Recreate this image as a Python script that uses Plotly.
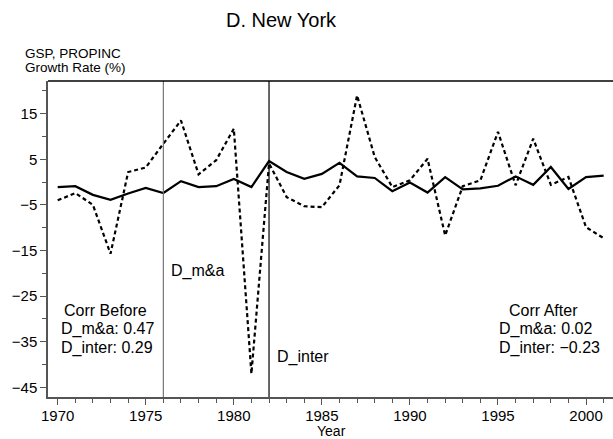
import plotly.graph_objects as go

years = list(range(1970, 2002))
gsp = [-1.1, -0.9, -2.8, -3.9, -2.5, -1.3, -2.4, 0.2, -1.1, -0.9, 0.7, -1.1,
       4.6, 2.2, 0.7, 1.8, 4.2, 1.25, 0.9, -2.0, -0.1, -2.3, 1.1, -1.6,
       -1.4, -0.8, 1.25, -0.6, 3.3, -1.5, 1.1, 1.4]
propinc = [-4.0, -2.4, -5.0, -15.7, 2.2, 3.2, 8.4, 13.5, 1.7, 4.8, 11.7, -42.0,
           4.1, -3.3, -5.3, -5.5, -0.7, 19.0, 5.5, -1.1, 0.4, 5.1, -11.7, -0.9,
           0.4, 11.0, -0.7, 9.5, -0.6, 1.1, -9.9, -12.3]
events = [1976, 1982]
event_labels = ["D_m&a", "D_inter"]
corr_before = ["Corr Before", "D_m&a: 0.47", "D_inter: 0.29"]
corr_after = ["Corr After", "D_m&a: 0.02", "D_inter: \u22120.23"]

W, H = 613, 439
L, R, T, B = 48, 0, 81, 42
PW, PH = W - L - R, H - T - B


def px(x):
    return (x - L) / PW


def py(y):
    return (H - B - y) / PH


FONT = "Liberation Sans, Arial, Helvetica, sans-serif"

fig = go.Figure()
fig.add_trace(go.Scatter(x=years, y=gsp, mode="lines",
                         line=dict(color="black", width=2.2), showlegend=False))
fig.add_trace(go.Scatter(x=years, y=propinc, mode="lines",
                         line=dict(color="black", width=2.2, dash="4px,3px"), showlegend=False))

# event vertical lines
fig.add_shape(type="line", xref="x", yref="paper", x0=events[0], x1=events[0], y0=0, y1=1,
              line=dict(color="#777777", width=1.2))
fig.add_shape(type="line", xref="x", yref="paper", x0=events[1], x1=events[1], y0=0, y1=1,
              line=dict(color="black", width=1.2))
# top border
fig.add_shape(type="line", xref="paper", yref="paper", x0=0, x1=1, y0=1, y1=1,
              line=dict(color="black", width=1.5))

ann = []


def txt(s, x, y, size=16, xanchor="left", pad=1):
    ann.append(dict(text=s, x=px(x), y=py(y), xref="paper", yref="paper",
                    xanchor=xanchor, yanchor="middle", showarrow=False, borderpad=pad,
                    font=dict(family=FONT, size=size, color="black")))


txt("D. New York", 281.7, 20, size=20, xanchor="center")
txt("GSP, PROPINC", 23, 53.5, size=13.5)
txt("Growth Rate (%)", 23, 67.5, size=13.5)
txt("Year", 331.7, 431, size=14, xanchor="center", pad=0)
txt(event_labels[0], 169, 270.7)
txt(event_labels[1], 275, 357.3)
txt(corr_before[0], 62.3, 310)
txt(corr_before[1], 59, 329.3)
txt(corr_before[2], 59, 347.7)
txt(corr_after[0], 507.3, 310)
txt(corr_after[1], 497.3, 329.3)
txt(corr_after[2], 497.3, 347.7)

fig.update_layout(
    width=W, height=H,
    margin=dict(l=L, r=R, t=T, b=B, pad=0),
    plot_bgcolor="white", paper_bgcolor="white",
    font=dict(family=FONT, size=15, color="black"),
    annotations=ann,
    xaxis=dict(range=[1969.45, 2001.53], tick0=1970, dtick=5, ticks="outside",
               ticklen=6, tickwidth=1.2, tickcolor="#555555", ticklabelstandoff=-2,
               showline=True, linecolor="#555555", linewidth=1.5,
               showgrid=False, zeroline=False,
               tickfont=dict(family=FONT, size=15, color="black"),
               minor=dict(dtick=1, ticks="outside", ticklen=4, tickcolor="#555555", tickwidth=1.2)),
    yaxis=dict(range=[-47.1, 22.15], tick0=15, dtick=10, ticks="outside",
               ticklen=6, tickwidth=1.2, tickcolor="#555555",
               showline=True, linecolor="#555555", linewidth=1.5,
               showgrid=False, zeroline=False,
               tickfont=dict(family=FONT, size=15, color="black"),
               minor=dict(dtick=5, ticks="outside", ticklen=4, tickcolor="#555555", tickwidth=1.2)),
)

fig.write_html("out.html", config={"displayModeBar": False},
               post_script="document.body.style.margin='0';document.body.style.overflow='hidden';")
